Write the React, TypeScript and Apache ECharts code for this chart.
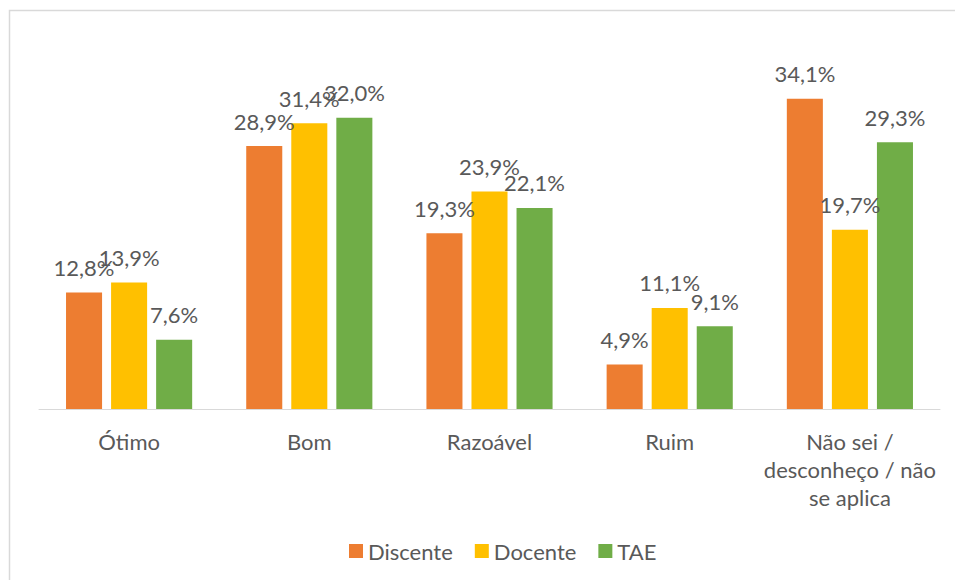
import React, { useEffect, useRef } from "react";
import * as echarts from "echarts";

const categories = ["Ótimo", "Bom", "Razoável", "Ruim", "Não sei /\ndesconheço / não\nse aplica"];
const seriesNames = ["Discente", "Docente", "TAE"];
const discente = [12.8, 28.9, 19.3, 4.9, 34.1];
const docente = [13.9, 31.4, 23.9, 11.1, 19.7];
const tae = [7.6, 32.0, 22.1, 9.1, 29.3];
const colors = ["#ED7D31", "#FFC000", "#70AD47"];

const FONT = "Lato, 'Noto Sans', sans-serif";
const TEXT = "#595959";

export default function App() {
  const ref = useRef<HTMLDivElement>(null);
  useEffect(() => {
    if (!ref.current) return;
    const chart = echarts.init(ref.current, undefined, { renderer: "svg" });
    const values = [discente, docente, tae];
    chart.setOption({
      animation: false,
      backgroundColor: "#ffffff",
      textStyle: { fontFamily: FONT },
      graphic: [
        {
          type: "rect",
          shape: { x: 9.5, y: 10.5, width: 1000, height: 1000 },
          style: { fill: "none", stroke: "#d9d9d9", lineWidth: 1.5 },
          silent: true,
        },
      ],
      grid: { left: 39, right: 15, top: 45, bottom: 171, containLabel: false },
      legend: {
        left: 344,
        top: 535,
        itemWidth: 14,
        itemHeight: 14,
        itemGap: 22,
        icon: "rect",
        textStyle: { color: TEXT, fontSize: 22, fontFamily: FONT },
        data: seriesNames,
      },
      xAxis: {
        type: "category",
        data: categories,
        axisLine: { lineStyle: { color: "#d9d9d9", width: 1 } },
        axisTick: { show: false },
        axisLabel: {
          color: TEXT,
          fontSize: 22,
          fontFamily: FONT,
          margin: 18,
          lineHeight: 28,
          interval: 0,
        },
      },
      yAxis: {
        type: "value",
        min: 0,
        max: 40,
        show: false,
        splitLine: { show: false },
      },
      series: seriesNames.map((name, i) => ({
        name,
        type: "bar",
        data: values[i],
        barGap: "25%",
        barCategoryGap: "30%",
        itemStyle: { color: colors[i] },
        label: {
          show: true,
          position: "top",
          distance: 14,
          color: TEXT,
          fontSize: 22,
          fontFamily: FONT,
          formatter: (p: any) => p.value.toFixed(1).replace(".", ",") + "%",
        },
      })),
    });
    return () => chart.dispose();
  }, []);
  return (
    <div
      ref={ref}
      style={{ position: "fixed", left: 0, top: 0, width: 955, height: 580 }}
    />
  );
}
